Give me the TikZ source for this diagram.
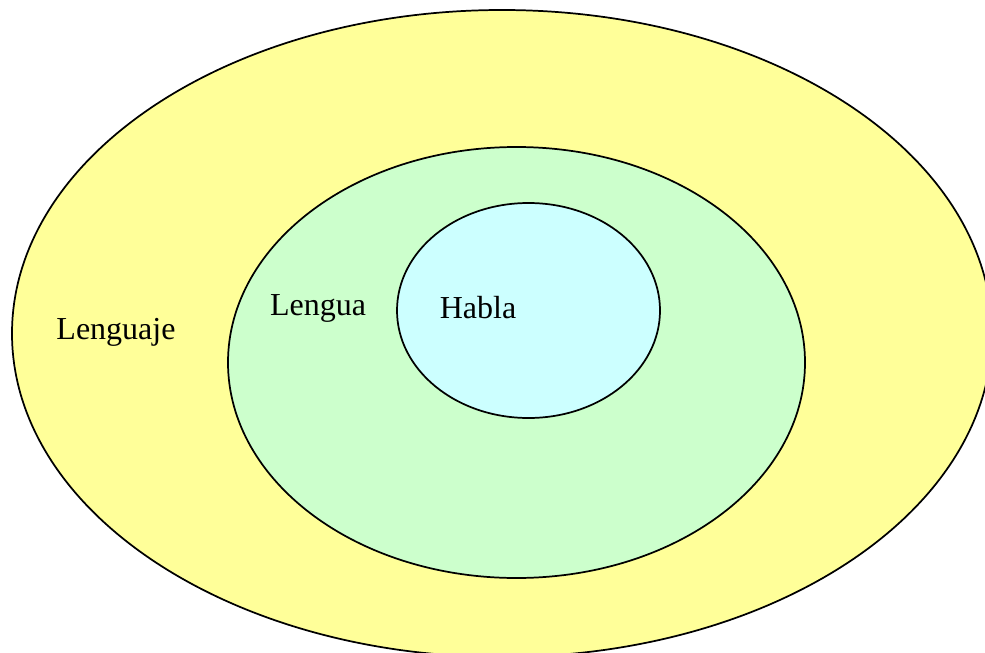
\documentclass[tikz,border=0pt]{standalone}
\usepackage{fontspec}
\setmainfont{Liberation Serif}
\usetikzlibrary{shapes}

\definecolor{lenguajeyellow}{HTML}{FFFF99}
\definecolor{lenguagreen}{HTML}{CCFFCC}
\definecolor{hablacyan}{HTML}{CCFFFF}

\begin{document}
\begin{tikzpicture}[x=0.75pt, y=-0.75pt, font=\fontsize{24}{28}\selectfont]
        \useasboundingbox (0,0) rectangle (985,653);

        \draw[solid, line width=1.3pt, fill=lenguajeyellow] (502, 333.5) ellipse (490 and 323.5);
        \draw[solid, line width=1.3pt, fill=lenguagreen] (516.5, 362.5) ellipse (288.5 and 215.5);
        \draw[solid, line width=1.3pt, fill=hablacyan] (528.5, 310.5) ellipse (131.5 and 107.5);

        \node (lenguaje) at (116, 332) {Lenguaje};
        \node (lengua) at (318, 308) {Lengua};
        \node (habla) at (478, 308) {Habla};
    \end{tikzpicture}
\end{document}
